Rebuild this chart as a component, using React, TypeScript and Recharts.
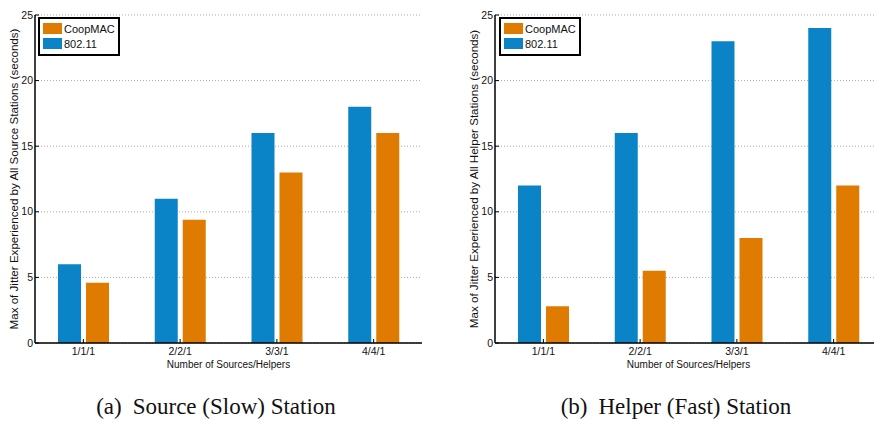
import {
  BarChart,
  Bar,
  XAxis,
  YAxis,
  CartesianGrid,
  Legend,
} from "recharts";

const categories = ["1/1/1", "2/2/1", "3/3/1", "4/4/1"];
const sourceDcf = [6, 11, 16, 18];
const sourceCoop = [4.6, 9.4, 13, 16];
const helperDcf = [12, 16, 23, 24];
const helperCoop = [2.8, 5.5, 8, 12];
const yTicks = [0, 5, 10, 15, 20, 25];
const legendItems = [
  { name: "CoopMAC", color: "#df7b00" },
  { name: "802.11", color: "#0b84c7" },
];

const BLUE = "#0b84c7";
const ORANGE = "#df7b00";
const SANS = "'Liberation Sans', Arial, sans-serif";
const TICK = 4;

const LeftTick = (props: any) => {
  const { x, y, payload } = props;
  return (
    <g>
      <line x1={x + 2} x2={x + 2 + TICK} y1={y} y2={y} stroke="#000" />
      <text x={x} y={y} dy="0.35em" textAnchor="end" fontSize={10.5} fontFamily={SANS} fill="#111">
        {payload.value}
      </text>
    </g>
  );
};

const RightTick = (props: any) => {
  const { x, y } = props;
  return <line x1={x - TICK} x2={x} y1={y} y2={y} stroke="#000" />;
};

const BottomTick = (props: any) => {
  const { x, y, payload } = props;
  return (
    <g>
      <line x1={x} x2={x} y1={y - 4} y2={y - 4 - TICK} stroke="#000" />
      <text x={x} y={y} dy="0.8em" textAnchor="middle" fontSize={10.5} fontFamily={SANS} fill="#111">
        {payload.value}
      </text>
    </g>
  );
};

const TopTick = (props: any) => {
  const { x, y } = props;
  return <line x1={x} x2={x} y1={y} y2={y + TICK} stroke="#000" />;
};

const LegendBox = () => (
  <div
    style={{
      border: "2px solid #000",
      background: "#fff",
      padding: "2px 3px 3px 3px",
      fontFamily: SANS,
      fontSize: 11,
      color: "#111",
    }}
  >
    {legendItems.map((it) => (
      <div key={it.name} style={{ display: "flex", alignItems: "center", height: 15 }}>
        <span style={{ display: "inline-block", width: 19, height: 11, background: it.color, marginRight: 2 }} />
        <span>{it.name}</span>
      </div>
    ))}
  </div>
);

interface PanelProps {
  dcf: number[];
  coop: number[];
  yTitle: string;
  axisWidth: number;
  width: number;
  titleDx: number;
  legendLeft: number;
}

const Panel = ({ dcf, coop, yTitle, axisWidth, width, titleDx, legendLeft }: PanelProps) => {
  const data = categories.map((cat, i) => ({ cat, dcf: dcf[i], coop: coop[i] }));
  return (
    <BarChart
      width={width}
      height={375}
      data={data}
      margin={{ top: 15, right: 15, left: 0, bottom: 0 }}
      barSize={23}
      barGap={5}
    >
      <CartesianGrid
        xAxisId="b"
        yAxisId="l"
        vertical={false}
        stroke="#aaa"
        strokeDasharray="1 2"
      />
      <XAxis
        xAxisId="b"
        dataKey="cat"
        height={32}
        tickSize={0}
        tickMargin={4}
        tickLine={false}
        tick={<BottomTick />}
        axisLine={{ stroke: "#000", strokeWidth: 1.5 }}
        interval={0}
        label={{
          value: "Number of Sources/Helpers",
          position: "insideBottom",
          offset: 7,
          fontSize: 10,
          fontFamily: SANS,
          fill: "#111",
        }}
      />
      <XAxis
        xAxisId="t"
        dataKey="cat"
        orientation="top"
        height={0}
        tickSize={0}
        tickMargin={0}
        tickLine={false}
        tick={<TopTick />}
        axisLine={{ stroke: "#000", strokeWidth: 1.5 }}
        interval={0}
      />
      <YAxis
        yAxisId="l"
        width={axisWidth}
        domain={[0, 25]}
        ticks={yTicks}
        interval={0}
        tickSize={0}
        tickMargin={2}
        tickLine={false}
        tick={<LeftTick />}
        axisLine={{ stroke: "#000", strokeWidth: 1.5 }}
        label={{
          value: yTitle,
          angle: -90,
          position: "center",
          dx: titleDx,
          fontSize: 11.6,
          fontFamily: SANS,
          fill: "#111",
        }}
      />
      <YAxis
        yAxisId="r"
        orientation="right"
        width={0}
        domain={[0, 25]}
        ticks={yTicks}
        interval={0}
        tickSize={0}
        tickMargin={0}
        tickLine={false}
        tick={<RightTick />}
        axisLine={{ stroke: "#000", strokeWidth: 1.5 }}
      />
      <Legend
        layout="vertical"
        align="center"
        verticalAlign="middle"
        wrapperStyle={{ left: legendLeft, top: 17, width: "auto", height: "auto" }}
        content={<LegendBox />}
      />
      <Bar xAxisId="b" yAxisId="l" dataKey="dcf" name="802.11" fill={BLUE} isAnimationActive={false} />
      <Bar xAxisId="b" yAxisId="l" dataKey="coop" name="CoopMAC" fill={ORANGE} isAnimationActive={false} />
    </BarChart>
  );
};

const captionStyle: any = {
  position: "absolute",
  top: 395,
  fontFamily: "'Liberation Serif', 'Times New Roman', serif",
  fontSize: 23,
  lineHeight: "23px",
  textAlign: "center",
  color: "#111",
  whiteSpace: "pre",
};

export default function App() {
  return (
    <div
      style={{
        position: "absolute",
        left: 0,
        top: 0,
        width: 874,
        height: 421,
        overflow: "hidden",
        background: "#fff",
      }}
    >
      <div style={{ position: "absolute", left: 0, top: 0 }}>
        <Panel
          dcf={sourceDcf}
          coop={sourceCoop}
          yTitle="Max of Jitter Experienced by All Source Stations (seconds)"
          axisWidth={35}
          width={437}
          titleDx={-3.5}
          legendLeft={38}
        />
      </div>
      <div style={{ position: "absolute", left: 437, top: 0 }}>
        <Panel
          dcf={helperDcf}
          coop={helperCoop}
          yTitle="Max of Jitter Experienced by All Helper Stations (seconds)"
          axisWidth={58}
          width={460}
          titleDx={8}
          legendLeft={62}
        />
      </div>
      <div style={{ ...captionStyle, left: 0, width: 432 }}>
        (a)<span style={{ display: "inline-block", width: 11 }} />Source (Slow) Station
      </div>
      <div style={{ ...captionStyle, left: 437, width: 478 }}>
        (b)<span style={{ display: "inline-block", width: 11 }} />Helper (Fast) Station
      </div>
    </div>
  );
}
